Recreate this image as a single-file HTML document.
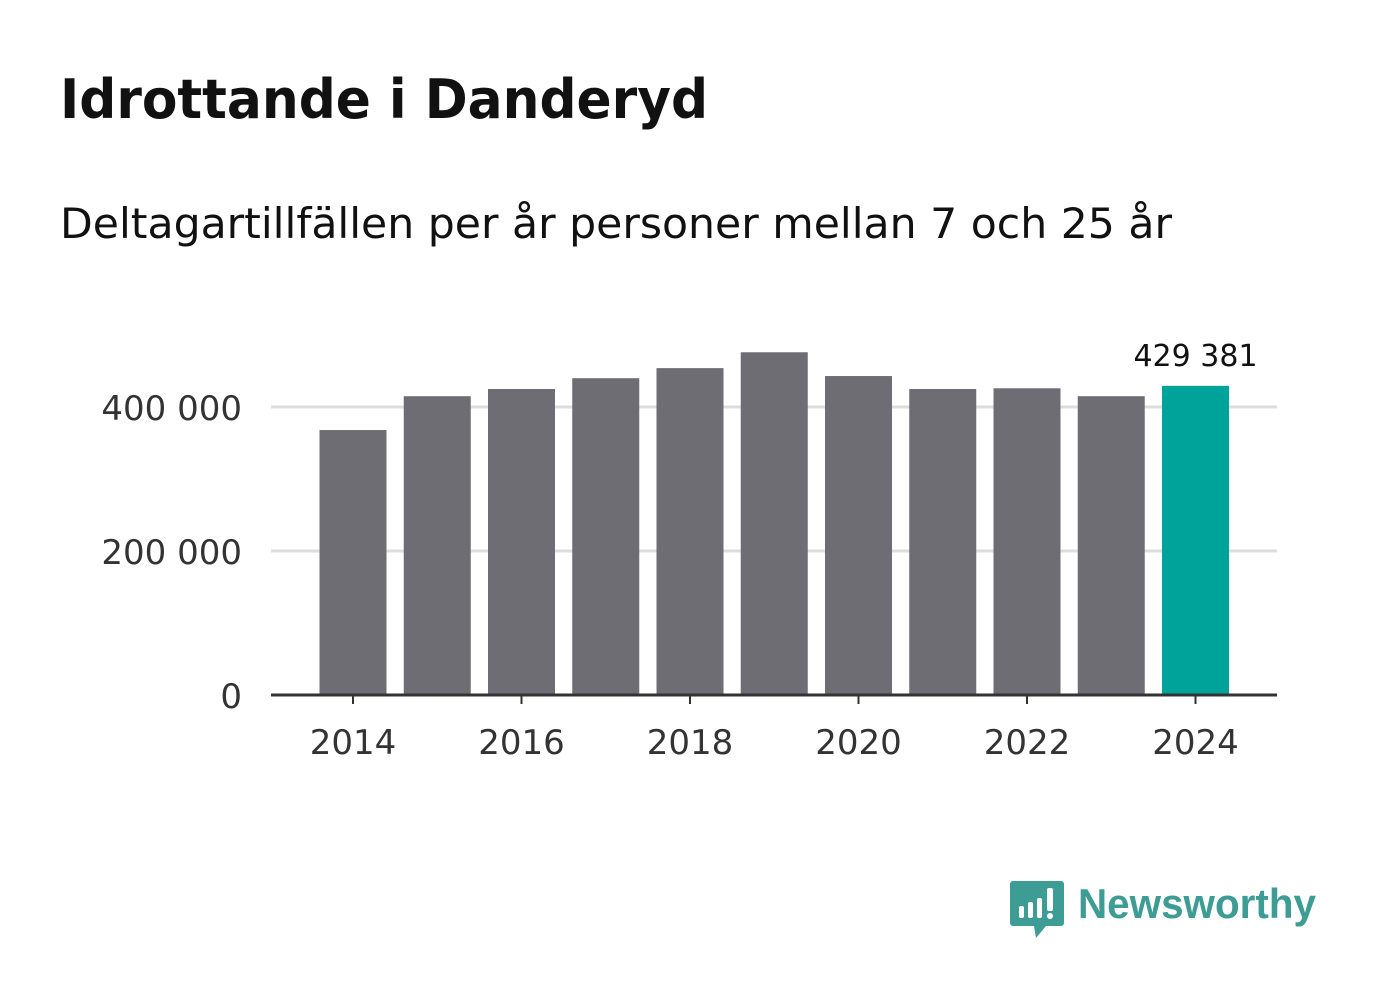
<!DOCTYPE html>
<html><head><meta charset="utf-8"><style>
body{margin:0;background:#fff;font-family:"DejaVu Sans","Liberation Sans",sans-serif;}
#wrap{position:relative;width:1382px;height:999px;overflow:hidden;}
</style></head><body>
<div id="wrap">
<svg id="svg" width="1382" height="999">
<text x="60" y="118" font-size="54" font-weight="bold" fill="#111" font-family="DejaVu Sans, sans-serif" textLength="648" lengthAdjust="spacingAndGlyphs">Idrottande i Danderyd</text>
<text x="60" y="238" font-size="42" fill="#111" font-family="DejaVu Sans, sans-serif" textLength="1112" lengthAdjust="spacingAndGlyphs">Deltagartillfällen per år personer mellan 7 och 25 år</text>
<g id="grid"></g><g id="bars"></g><g id="axis"></g>
<g>
<path d="M1013 881 h48 a3 3 0 0 1 3 3 v39 a3 3 0 0 1 -3 3 h-15 l-10 12 l-2 -12 h-21 a3 3 0 0 1 -3 -3 v-39 a3 3 0 0 1 3 -3z" fill="#3d9c94"/>
<rect x="1019" y="906" width="5" height="12" rx="2" fill="#fff"/>
<rect x="1028" y="902" width="5" height="16" rx="2" fill="#fff"/>
<rect x="1037" y="898" width="5" height="20" rx="2" fill="#fff"/>
<rect x="1047" y="888" width="6" height="23" rx="2" fill="#fff"/>
<circle cx="1050" cy="916" r="3" fill="#fff"/>
<text x="1078" y="918" font-size="42" font-weight="bold" fill="#3d9c94" font-family="Liberation Sans, sans-serif" textLength="238" lengthAdjust="spacingAndGlyphs">Newsworthy</text>
</g>
</svg>
</div>
<script>
const years=[2014,2015,2016,2017,2018,2019,2020,2021,2022,2023,2024];
const values=[368000,415000,425000,440000,454000,476000,443000,425000,426000,415000,429381];
const yTicks=[0,200000,400000];
const yTickLabels=["0","200 000","400 000"];
const xTickYears=[2014,2016,2018,2020,2022,2024];
const NS="http://www.w3.org/2000/svg";
const y0=695,pxPer=288/400000,x0=353,pitch=84.25,bw=67,L=271,R=1277;
const yS=v=>y0-v*pxPer;
const xS=yr=>x0+(yr-years[0])*pitch;
function mk(tag,attrs,parent){const e=document.createElementNS(NS,tag);for(const k in attrs)e.setAttribute(k,attrs[k]);document.getElementById(parent).appendChild(e);return e;}
yTicks.forEach((t,i)=>{
 if(t>0){const g=mk('line',{x1:L,x2:R,y1:yS(t),y2:yS(t),stroke:'#ddd','stroke-width':3},'grid');
 
 }
 const tx=mk('text',{x:242,y:yS(t)+13,'text-anchor':'end','font-size':34,fill:'#333'},'axis');
 tx.textContent=yTickLabels[i];
 
 
});
values.forEach((v,i)=>{
 const last=i===values.length-1;
 const r=mk('rect',{x:xS(years[i])-bw/2,y:yS(v),width:bw,height:y0-yS(v),fill:last?'#00a39a':'#6e6d73'},'bars');
 
 
 if(last){const t=mk('text',{x:xS(years[i]),y:yS(v)-20,'text-anchor':'middle','font-size':30,fill:'#111'},'bars');
 t.textContent=v.toLocaleString('sv-SE').replace(/\s/g,' ');
 
 }
});
const ax=mk('line',{x1:L,x2:R,y1:y0,y2:y0,stroke:'#333','stroke-width':3},'axis');


xTickYears.forEach(yr=>{
 const tk=mk('line',{x1:xS(yr),x2:xS(yr),y1:y0,y2:y0+9,stroke:'#333','stroke-width':2},'axis');
 
 
 const t=mk('text',{x:xS(yr),y:754,'text-anchor':'middle','font-size':34,fill:'#333'},'axis');
 t.textContent=yr;
 
 
});
</script>
</body></html>
